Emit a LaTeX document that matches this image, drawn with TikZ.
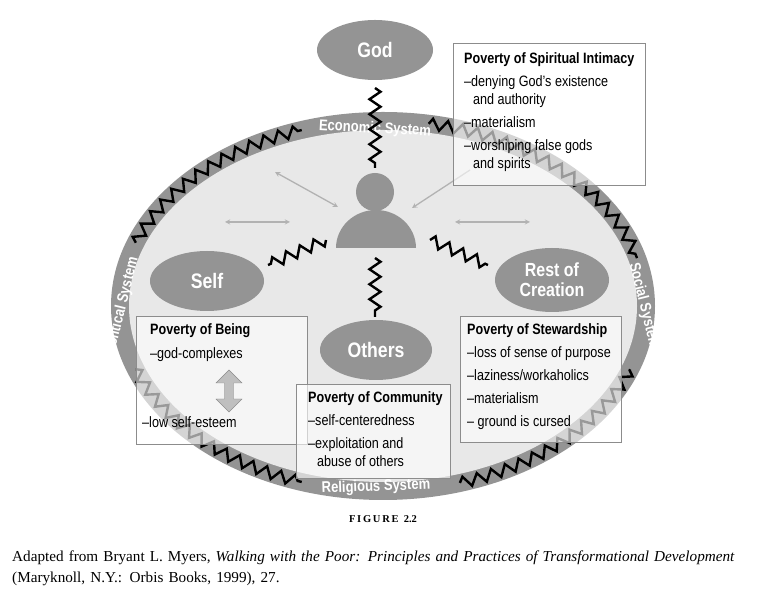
\documentclass[tikz,border=0pt]{standalone}
\usepackage{fontspec}
\setmainfont{Liberation Serif}
\newfontfamily\cond{Liberation Sans}[FakeStretch=0.84]
\usetikzlibrary{decorations.pathmorphing,shapes.arrows,shapes.geometric}
\newcommand{\itm}{\textendash}
\begin{document}
\begin{tikzpicture}[x=1pt,y=1pt]
\tikzstyle{bubble} = [ellipse,fill=black!42,text=white,font=\cond\bfseries\fontsize{21}{21}\selectfont,align=center,inner sep=0pt]
\tikzstyle{zz} = [draw=black,line width=2.4pt,decorate,decoration={zigzag,segment length=15pt,amplitude=5.5pt}]
\tikzstyle{info} = [draw=black!45,fill=white,fill opacity=0.6,text opacity=1,anchor=north west,inner sep=0pt]
\tikzstyle{txt} = [anchor=north west,align=left,font=\cond\fontsize{15}{18}\selectfont,inner sep=0pt]
\tikzstyle{ring} = [text=white,font=\cond\bfseries\fontsize{15.5}{15.5}\selectfont]
\tikzstyle{rel} = [draw=black!30,line width=1.3pt,>=stealth]

\useasboundingbox (0,0) rectangle (766,610);
\coordinate (C) at (383,304);

% systems ring
\fill[black!42] (C) ellipse [x radius=272pt,y radius=194pt];
\fill[black!9] (C) ellipse [x radius=254pt,y radius=176pt];

\draw[zz] ([shift={(160:263pt and 185pt)}]C) arc [start angle=160,end angle=108,x radius=263pt,y radius=185pt];
\draw[zz] ([shift={(80:263pt and 185pt)}]C) arc [start angle=80,end angle=15,x radius=263pt,y radius=185pt];
\draw[zz] ([shift={(200:263pt and 185pt)}]C) arc [start angle=200,end angle=252,x radius=263pt,y radius=185pt];
\draw[zz] ([shift={(287:263pt and 185pt)}]C) arc [start angle=287,end angle=340,x radius=263pt,y radius=185pt];

\node[ring,rotate=-3] (econ) at (375,481) {Economic System};
\node[ring,rotate=2] (relig) at (376,123) {Religious System};
\node[ring,rotate=76] (polit) at (122,304) {Political System};
\node[ring,rotate=-76] (social) at (644,304) {Social System};

% person
\node[circle,fill=black!42,minimum size=38pt,inner sep=0pt] (head) at (375,418) {};
\fill[black!42] (336,362) arc [start angle=180,end angle=0,x radius=40pt,y radius=38pt] -- cycle;
\coordinate (person) at (375,380);

% relationships
\node[bubble,minimum width=116pt,minimum height=60pt] (god) at (375,560) {God};
\node[bubble,minimum width=114pt,minimum height=60pt] (self) at (207,329) {Self};
\node[bubble,minimum width=114pt,minimum height=64pt,font=\cond\bfseries\fontsize{19}{20}\selectfont] (creation) at (552,330) {Rest of\\Creation};
\node[bubble,minimum width=112pt,minimum height=60pt] (others) at (376,260) {Others};

\coordinate (z1) at (375,522);
\coordinate (z2) at (375,442);
\draw[zz] (z1) -- (z2);
\coordinate (z3) at (375,352);
\coordinate (z4) at (375,293);
\draw[zz] (z3) -- (z4);
\coordinate (z5) at (326,370);
\coordinate (z6) at (268,345);
\draw[zz] (z5) -- (z6);
\coordinate (z7) at (430,370);
\coordinate (z8) at (488,345);
\draw[zz] (z7) -- (z8);

\coordinate (a1) at (275,438);
\coordinate (a2) at (338,403);
\draw[rel,<->] (a1) -- (a2);
\coordinate (a3) at (225,388);
\coordinate (a4) at (290,388);
\draw[rel,<->] (a3) -- (a4);
\coordinate (a5) at (455,388);
\coordinate (a6) at (530,388);
\draw[rel,<->] (a5) -- (a6);
\coordinate (a7) at (470,440);
\coordinate (a8) at (412,402);
\draw[rel,->] (a7) -- (a8);

% poverty boxes
\node[info,minimum width=192pt,minimum height=142pt] (spirit) at (453,567) {};
\node[txt] (spirittxt) at (464,558)
 {\textbf{Poverty of Spiritual Intimacy}\\[5pt]
  \itm denying God’s existence\\\hspace*{9pt}and authority\\[5pt]
  \itm materialism\\[5pt]
  \itm worshiping false gods\\\hspace*{9pt}and spirits};

\node[info,minimum width=171pt,minimum height=128pt] (being) at (136,294) {};
\node[txt] (beingtxt) at (150,287)
 {\textbf{Poverty of Being}\\[6pt] \itm god-complexes};
\node[txt] (esteem) at (142,194) {\itm low self-esteem};
\node[double arrow,shape border rotate=90,draw=black!45,fill=black!25,minimum height=42pt,minimum width=26pt,double arrow head extend=6pt,inner sep=3pt] (dbl) at (229,219) {};

\node[info,minimum width=154pt,minimum height=94pt] (commun) at (296,226) {};
\node[txt] (communtxt) at (308,219)
 {\textbf{Poverty of Community}\\[5pt]
  \itm self-centeredness\\[5pt]
  \itm exploitation and\\\hspace*{9pt}abuse of others};

\node[info,minimum width=161pt,minimum height=126pt] (steward) at (460,294) {};
\node[txt,font=\cond\fontsize{15}{23}\selectfont] (stewardtxt) at (467,287)
 {\textbf{Poverty of Stewardship}\\
  \itm loss of sense of purpose\\
  \itm laziness/workaholics\\
  \itm materialism\\
  \itm\ ground is cursed};

% caption
\node[font=\bfseries\fontsize{10.5}{10.5}\selectfont] (fig) at (383,91) {F\,I\,G\,U\,R\,E\ \ 2.2};
\node[anchor=north west,align=left,text width=760pt,font=\fontsize{15.2}{21}\selectfont,inner sep=0pt] (cap) at (12,59)
 {Adapted from Bryant L. Myers, \textit{Walking with the Poor: Principles and Practices of Transformational Development}\\(Maryknoll, N.Y.: Orbis Books, 1999), 27.};
\end{tikzpicture}
\end{document}
